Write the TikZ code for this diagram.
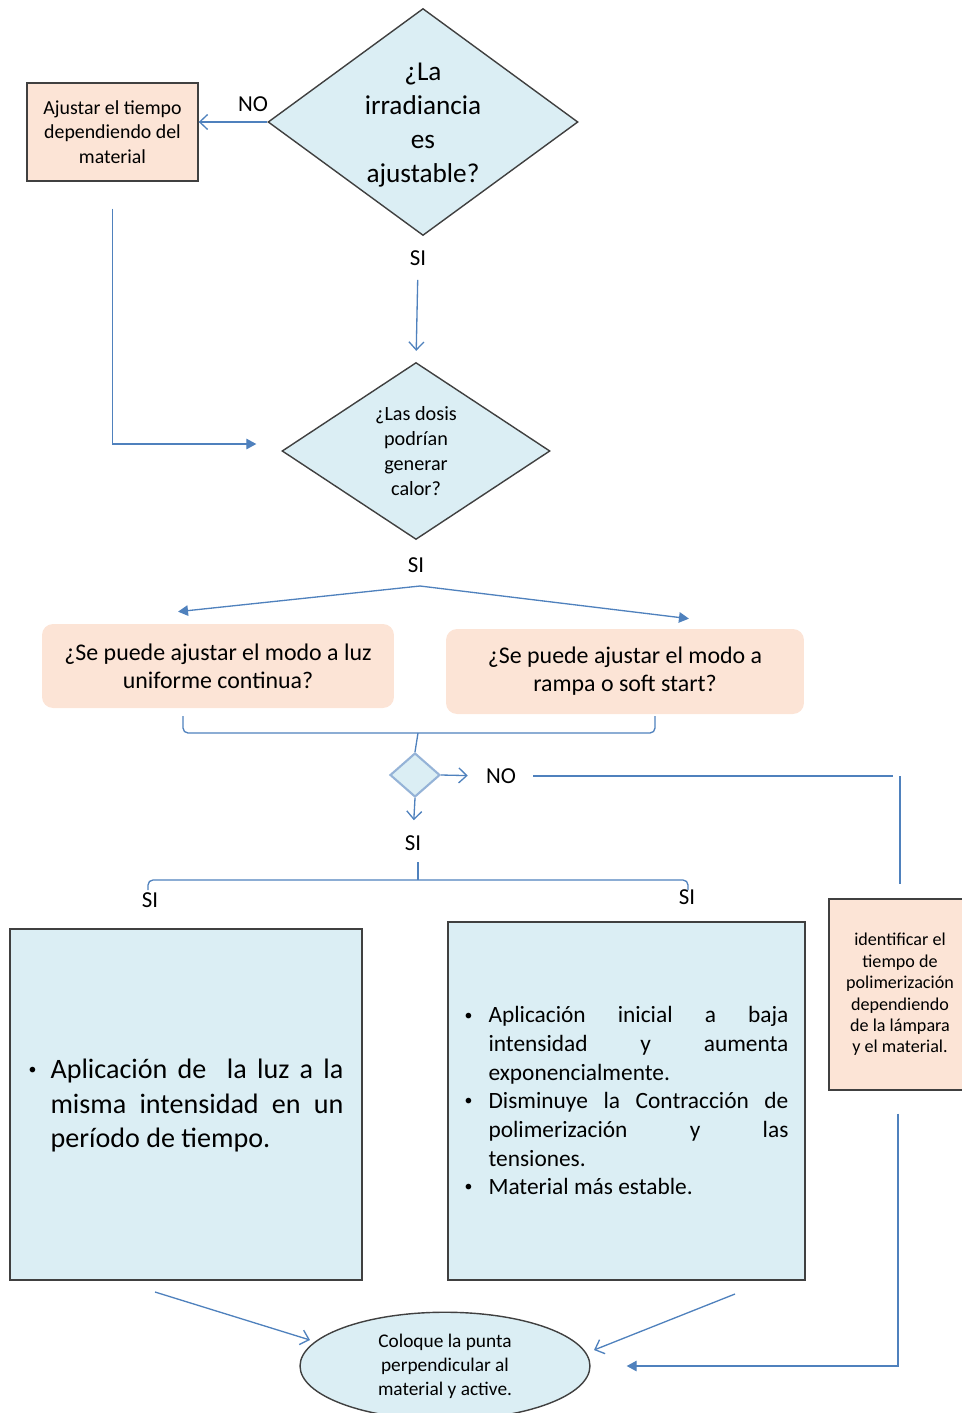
\documentclass[tikz,border=0pt]{standalone}
\usepackage{fontspec}
\setmainfont{Carlito}
\usetikzlibrary{shapes.geometric,arrows.meta}
\definecolor{azul}{HTML}{4F81BD}
\definecolor{azulclaro}{HTML}{95B3D7}
\definecolor{celeste}{HTML}{DBEEF4}
\definecolor{durazno}{HTML}{FCE4D6}
\definecolor{borde}{HTML}{404040}
\newcommand{\punto}[1]{\par\hangindent=#1\hangafter=1\noindent\makebox[#1][l]{\raisebox{0.12em}{\fontsize{9}{9}\selectfont\textbullet}}}
\newcommand{\relleno}{\par\nointerlineskip\hbox{\rule{0pt}{0.26cm}}}
\tikzset{
  pregunta/.style={diamond, draw=borde, fill=celeste, line width=0.8pt, inner sep=0pt},
  caja/.style={rectangle, draw=borde, line width=0.8pt},
  globo/.style={rectangle, rounded corners=0.22cm, fill=durazno, align=center,
    font=\fontsize{13.6}{15.9}\selectfont},
  etiqueta/.style={inner sep=0pt, font=\fontsize{13}{15}\selectfont},
  linea/.style={draw=azul, line width=0.75pt},
  abierta/.style={linea, -{Straight Barb[length=1.6mm,width=3mm]}},
  llena/.style={linea, -{Triangle[length=2mm,width=2.1mm]}}
}
\begin{document}
\begin{tikzpicture}[x=0.02cm, y=-0.02cm]
  \useasboundingbox (0,0) rectangle (961,1413);
  % preguntas
  \node[pregunta, minimum width=6.2cm, minimum height=4.54cm] (d1) at (423,122) {};
  \node[align=center, font=\fontsize{15.5}{19.3}\selectfont] (t1) at ([yshift=-0.06cm]d1) {¿La\\irradiancia\\es\\ajustable?};
  \node[pregunta, minimum width=5.36cm, minimum height=3.54cm] (d2) at (416,451) {};
  \node[align=center, font=\fontsize{11.5}{14.2}\selectfont] (t2) at (d2) {¿Las dosis\\podrían\\generar\\calor?};
  \node[caja, fill=durazno, minimum width=3.42cm, minimum height=1.96cm, align=center,
    font=\fontsize{11.3}{13.9}\selectfont] (c1) at (112.5,132) {Ajustar el tiempo\\dependiendo del\\material};
  \node[globo, minimum width=7.04cm, minimum height=1.68cm] (r1) at (218,666) {¿Se puede ajustar el modo a luz\\uniforme continua?};
  \node[globo, minimum width=7.16cm, minimum height=1.7cm] (r2) at (625,671.5) {¿Se puede ajustar el modo a\\rampa o soft start?};
  \node[diamond, draw=azulclaro, fill=celeste, line width=1.2pt, minimum width=1cm, minimum height=0.88cm, inner sep=0pt] (d3) at (415,775) {};
  % etiquetas
  \node[etiqueta] (no1) at (253,104) {NO};
  \node[etiqueta] (si1) at (418,258) {SI};
  \node[etiqueta] (si2) at (416,565) {SI};
  \node[etiqueta] (no2) at (501,776) {NO};
  \node[etiqueta] (si3) at (413,843) {SI};
  \node[etiqueta] (si4) at (150,900) {SI};
  \node[etiqueta] (si5) at (687,897) {SI};
  % cajas finales
  \node[caja, fill=celeste, minimum width=7.04cm, minimum height=7.02cm, text width=6.3cm,
    inner xsep=0.37cm, align=justify, font=\fontsize{16}{19.8}\selectfont] (q1) at (186,1104.5)
    {\punto{0.44cm}Aplicación de\ \ la luz a la\linebreak misma intensidad en un\linebreak período de tiempo.\relleno};
  \node[caja, fill=celeste, minimum width=7.14cm, minimum height=7.16cm, text width=6.48cm,
    inner xsep=0.33cm, align=justify, font=\fontsize{13.3}{16.3}\selectfont] (q2) at (626.5,1101)
    {\punto{0.48cm}Aplicación inicial a baja\linebreak intensidad y aumenta\linebreak exponencialmente.
     \punto{0.48cm}Disminuye la Contracción de\linebreak polimerización y las\linebreak tensiones.
     \punto{0.48cm}Material más estable.\relleno};
  \node[caja, fill=durazno, minimum width=2.84cm, minimum height=3.82cm, align=center,
    font=\fontsize{10.3}{12.2}\selectfont] (c3) at (900,994.5)
    {identificar el\\tiempo de\\polimerización\\dependiendo\\de la lámpara\\y el material.};
  \node[ellipse, draw=borde, fill=celeste, line width=0.8pt, minimum width=5.8cm, minimum height=1.88cm,
    align=center, font=\fontsize{11}{13.6}\selectfont] (e1) at (445,1366)
    {Coloque la punta\\perpendicular al\\material y active.};
  % puntos sueltos
  \coordinate (bif) at (420,586);
  \coordinate (l1) at (183,716);
  \coordinate (l2) at (655,716);
  \coordinate (m1) at (418,733);
  \coordinate (n1) at (893,776);
  \coordinate (n2) at (900,776);
  \coordinate (n3) at (900,884);
  \coordinate (b0) at (418,862);
  \coordinate (b1) at (418,880);
  \coordinate (b2) at (148,890);
  \coordinate (b3) at (688,890);
  \coordinate (f1) at (155,1292);
  \coordinate (f2) at (310,1340);
  \coordinate (f3) at (735,1294);
  \coordinate (f4) at (594,1350);
  % conectores
  \draw[abierta] (d1.west) -- (d1.west -| c1.east);
  \draw[abierta, shorten <=0.28cm, shorten >=0.22cm] (si1.south) -- (d2.north);
  \draw[llena, shorten <=0.54cm, shorten >=0.5cm] (c1.south) |- ([yshift=0.14cm]d2.west);
  \draw[llena] (bif) -- ([xshift=-0.8cm,yshift=0.24cm]r1.north);
  \draw[llena] (bif) -- ([xshift=1.28cm,yshift=0.2cm]r2.north);
  \draw[linea, rounded corners=0.1cm] (l1) |- (m1) -| (l2);
  \draw[linea, rounded corners=0.1cm] (m1) -- (d3.north);
  \draw[abierta, shorten >=0.36cm] (d3.east) -- (no2.west);
  \draw[abierta, shorten >=0.3cm] (d3.south) -- (si3.north);
  \draw[linea, shorten <=0.34cm] (no2.east) -- (n1);
  \draw[linea] (n2) -- (n3);
  \draw[linea] (b0) -- (b1);
  \draw[linea, rounded corners=0.1cm] (b2) |- (b1) -| (b3);
  \draw[abierta] (f1) -- (f2);
  \draw[abierta] (f3) -- (f4);
  \draw[llena, shorten <=0.46cm, shorten >=0.72cm] ([xshift=-0.04cm]c3.south) |- (e1.east);
\end{tikzpicture}
\end{document}
